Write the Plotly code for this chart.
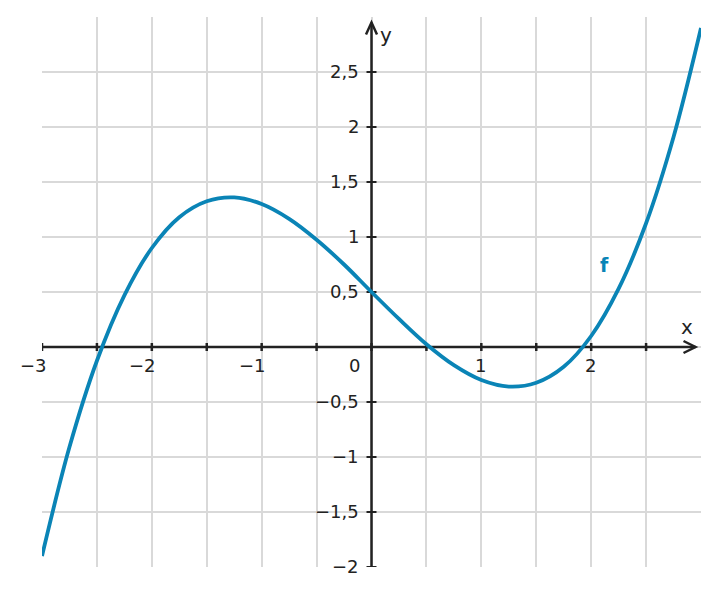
import plotly.graph_objects as go

# ---- data ----
x_vals = [-3.0, -2.75, -2.5, -2.25, -2.0, -1.75, -1.5, -1.25, -1.0, -0.75, -0.5, -0.25,
          0.0, 0.25, 0.5, 0.75, 1.0, 1.25, 1.5, 1.75, 2.0, 2.25, 2.5, 2.75, 3.0]
y_vals = [-1.9, -0.91, -0.125, 0.47, 0.9, 1.18, 1.325, 1.36, 1.3, 1.165, 0.975, 0.75,
          0.5, 0.255, 0.025, -0.165, -0.3, -0.36, -0.325, -0.18, 0.1, 0.53, 1.125, 1.91, 2.9]

x_tick_vals = [-3, -2, -1, 1, 2]
x_tick_text = ["−3", "−2", "−1", "1", "2"]
y_tick_vals = [2.5, 2, 1.5, 1, 0.5, -0.5, -1, -1.5, -2]
y_tick_text = ["2,5", "2", "1,5", "1", "0,5", "−0,5", "−1", "−1,5", "−2"]
x_minor = [-3, -2.5, -2, -1.5, -1, -0.5, 0, 0.5, 1, 1.5, 2, 2.5]
grid_x = [-3, -2.5, -2, -1.5, -1, -0.5, 0, 0.5, 1, 1.5, 2, 2.5, 3]
grid_y = [-2, -1.5, -1, -0.5, 0, 0.5, 1, 1.5, 2, 2.5]

X_RANGE = [-3, 3]
Y_RANGE = [-2, 3]
AXIS_END = 2.95

FONT = "DejaVu Sans"
INK = "#222222"
BLUE = "#0a84b6"
GRID = "#d9d9d9"

fig = go.Figure()
fig.add_trace(go.Scatter(x=x_vals, y=y_vals, mode="lines",
                         line=dict(color=BLUE, width=3.8, shape="spline", smoothing=1.0),
                         hoverinfo="skip"))

shapes = []
# axis lines
shapes.append(dict(type="line", xref="x", yref="y", x0=X_RANGE[0], x1=AXIS_END, y0=0, y1=0,
                   line=dict(color=INK, width=2.5), layer="between"))
shapes.append(dict(type="line", xref="x", yref="y", x0=0, x1=0, y0=Y_RANGE[0], y1=AXIS_END,
                   line=dict(color=INK, width=2.5), layer="between"))
# arrow heads
shapes.append(dict(type="path", xref="x", yref="y", xsizemode="pixel", ysizemode="pixel",
                   xanchor=AXIS_END, yanchor=0, path="M -12,6 L 0,0 L -12,-6",
                   line=dict(color=INK, width=2.5), layer="between"))
shapes.append(dict(type="path", xref="x", yref="y", xsizemode="pixel", ysizemode="pixel",
                   xanchor=0, yanchor=AXIS_END, path="M -5.5,-12 L 0,0 L 5.5,-12",
                   line=dict(color=INK, width=2.5), layer="between"))
# ticks
for xv in x_minor:
    shapes.append(dict(type="line", xref="x", yref="y", ysizemode="pixel", yanchor=0,
                       x0=xv, x1=xv, y0=-4, y1=4, line=dict(color=INK, width=2.5), layer="between"))
for yv in y_tick_vals:
    shapes.append(dict(type="line", xref="x", yref="y", xsizemode="pixel", xanchor=0,
                       y0=yv, y1=yv, x0=-5, x1=5, line=dict(color=INK, width=2), layer="between"))

annotations = []
for xv, t in zip(x_tick_vals, x_tick_text):
    annotations.append(dict(x=xv, y=0, xref="x", yref="y", text=t, showarrow=False,
                            xanchor="right", yanchor="middle", xshift=6.5, yshift=-18,
                            font=dict(family=FONT, size=18, color=INK)))
annotations.append(dict(x=0, y=0, xref="x", yref="y", text="0", showarrow=False,
                        xanchor="right", yanchor="middle", xshift=-10, yshift=-18,
                        font=dict(family=FONT, size=18, color=INK)))
for yv, t in zip(y_tick_vals, y_tick_text):
    annotations.append(dict(x=0, y=yv, xref="x", yref="y", text=t, showarrow=False,
                            xanchor="right", yanchor="middle", xshift=-11, yshift=1,
                            font=dict(family=FONT, size=18, color=INK)))
annotations.append(dict(x=AXIS_END, y=0, xref="x", yref="y", text="x", showarrow=False,
                        xanchor="center", yanchor="middle", xshift=-9, yshift=20,
                        font=dict(family=FONT, size=20, color=INK)))
annotations.append(dict(x=0, y=AXIS_END, xref="x", yref="y", text="y", showarrow=False,
                        xanchor="center", yanchor="middle", xshift=14, yshift=-12,
                        font=dict(family=FONT, size=20, color=INK)))
annotations.append(dict(x=2.12, y=0.75, xref="x", yref="y", text="<b>f</b>", showarrow=False,
                        xanchor="center", yanchor="middle",
                        font=dict(family=FONT, size=19, color=BLUE)))

fig.update_layout(
    width=703, height=579,
    margin=dict(l=34, r=10, t=9, b=20),
    plot_bgcolor="white", paper_bgcolor="white",
    showlegend=False,
    shapes=shapes, annotations=annotations,
    xaxis=dict(range=X_RANGE, tickmode="array", tickvals=grid_x, showticklabels=False,
               showgrid=True, gridcolor=GRID, gridwidth=1.5, zeroline=False, ticks="",
               showline=False, fixedrange=True),
    yaxis=dict(range=Y_RANGE, tickmode="array", tickvals=grid_y, showticklabels=False,
               showgrid=True, gridcolor=GRID, gridwidth=1.5, zeroline=False, ticks="",
               showline=False, fixedrange=True),
)

fig.write_html("out.html")
